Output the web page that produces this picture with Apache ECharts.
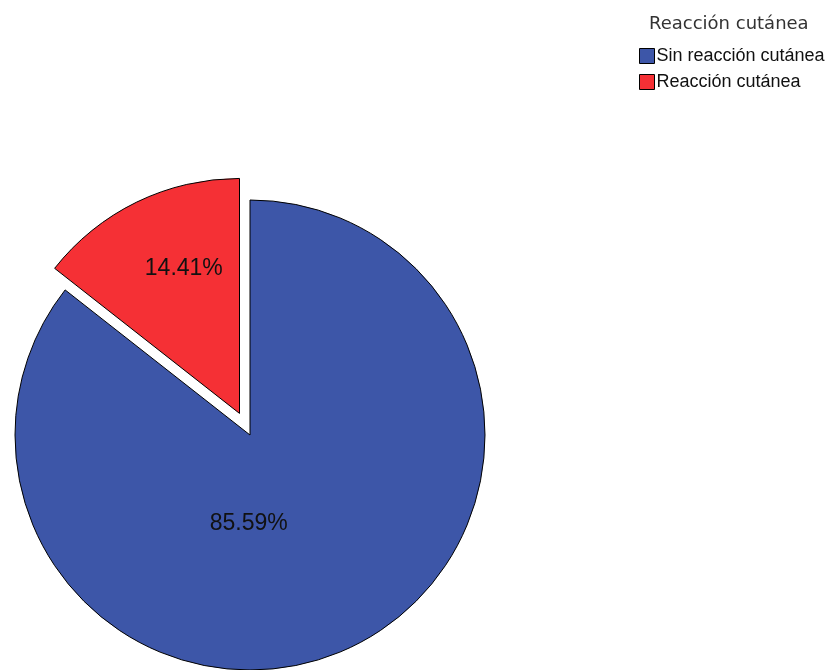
<!DOCTYPE html>
<html><head><meta charset="utf-8">
<script src="https://cdn.jsdelivr.net/npm/echarts@6/dist/echarts.min.js"></script>
<style>html,body{margin:0;padding:0;background:#fff}#c{width:832px;height:670px}</style>
</head><body><div id="c"></div>
<script>
const legendTitle = 'Reacción cutánea';
const categories = ['Sin reacción cutánea', 'Reacción cutánea'];
const values = [85.59, 14.41];
const colors = ['#3d56a8', '#f53035'];
const exploded = [false, true];
const labelShift = [[-54, -20], [-3, -36]];

const chart = echarts.init(document.getElementById('c'), null, {renderer: 'canvas'});
chart.setOption({
  animation: false,
  backgroundColor: '#fff',
  title: {
    text: legendTitle, left: 644, top: 10,
    textStyle: {fontFamily: 'DejaVu Sans, sans-serif', fontSize: 18, fontWeight: 'normal', color: '#333'}
  },
  legend: {
    orient: 'vertical', left: 634, top: 42, itemWidth: 15, itemHeight: 15, itemGap: 8,
    icon: 'rect', selectedMode: false,
    textStyle: {fontFamily: 'Liberation Sans, Arial, sans-serif', fontSize: 18, color: '#111', padding: [0, 0, 0, -3]},
    itemStyle: {borderColor: '#000', borderWidth: 1},
    data: categories
  },
  series: [{
    type: 'pie',
    center: [250, 435],
    radius: 235,
    startAngle: 90,
    clockwise: true,
    selectedMode: 'multiple',
    selectedOffset: 24,
    avoidLabelOverlap: false,
    itemStyle: {borderColor: '#000', borderWidth: 1},
    label: {
      show: true, position: 'inside',
      formatter: p => p.value.toFixed(2) + '%',
      fontFamily: 'Liberation Sans, Arial, sans-serif', fontSize: 23, color: '#111'
    },
    labelLayout: function (params) {
      const s = labelShift[params.dataIndex];
      return {dx: s[0], dy: s[1]};
    },
    emphasis: {disabled: true},
    data: categories.map((n, i) => ({name: n, value: values[i], selected: exploded[i], itemStyle: {color: colors[i]}}))
  }]
});
</script></body></html>
